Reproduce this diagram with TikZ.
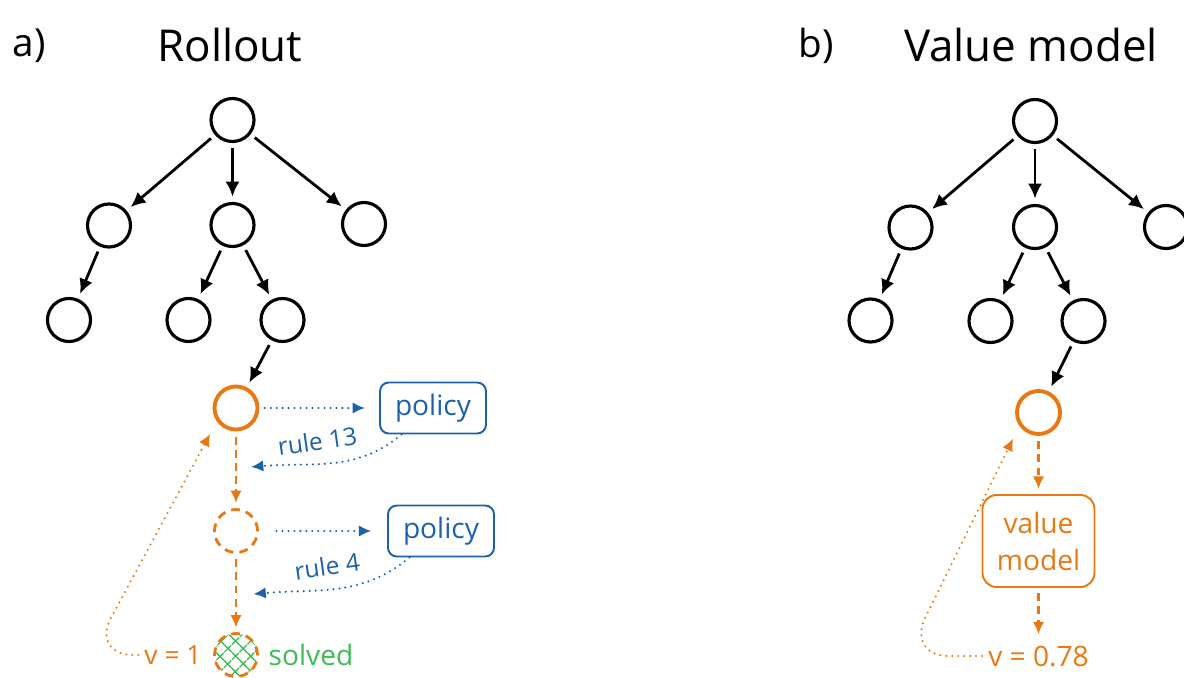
\documentclass[tikz,border=0pt]{standalone}
\usepackage{fontspec}
\setmainfont{Open Sans}
\usepackage{tikz}
\usetikzlibrary{positioning, arrows.meta, patterns.meta}
\definecolor{exorange}{RGB}{232,121,18}
\definecolor{exblue}{RGB}{27,98,168}
\definecolor{exgreen}{RGB}{64,186,84}

\begin{document}
\begin{tikzpicture}
	[on grid, auto,
	tnode/.style={circle, draw, line width=1.8pt, minimum size=0.86cm, inner sep=0pt},
	onode/.style={tnode, draw=exorange, line width=2.2pt},
	dnode/.style={tnode, draw=exorange, line width=1.6pt, dash pattern=on 5pt off 3.5pt},
	tarrow/.style={-{Latex[length=8.5pt,width=8pt]}, line width=1.6pt, shorten <=3pt, shorten >=3pt},
	darrow/.style={-{Latex[length=7pt,width=6.5pt]}, exorange, line width=1.2pt, dash pattern=on 4.5pt off 3pt, shorten <=3pt, shorten >=3pt},
	barrow/.style={-{Latex[length=7pt,width=6.5pt]}, exblue, line width=1.3pt, dash pattern=on 0pt off 3.4pt, line cap=round},
	oarrow/.style={-{Latex[length=7pt,width=6.5pt]}, exorange, line width=1.3pt, dash pattern=on 0pt off 3.4pt, line cap=round},
	pbox/.style={draw=exblue, text=exblue, rounded corners=5pt, line width=1.1pt, minimum width=2.12cm, minimum height=1.02cm, font=\fontsize{16}{18}\selectfont},
	vbox/.style={draw=exorange, text=exorange, rounded corners=8pt, line width=1.1pt, minimum width=2.24cm, minimum height=1.84cm, align=center, font=\fontsize{16}{21}\selectfont},
	lbl/.style={font=\fontsize{15}{17}\selectfont},
	ttl/.style={font=\fontsize{25}{30}\selectfont}]
	\useasboundingbox (0,0) rectangle (23.68,-13.54);
	\node[ttl, font=\fontsize{22}{26}\selectfont] (ta) at (0.58,-0.92) {a)};
	\node[ttl] (tr) at (4.6,-0.9) {Rollout};
	\node[ttl, font=\fontsize{22}{26}\selectfont] (tb) at (16.32,-0.92) {b)};
	\node[ttl] (tv) at (20.62,-0.9) {Value model};

	\node[tnode] (a_0) at (4.65,-2.4) {};
	\node[tnode] (a_1) [below left=2.11cm and 2.47cm of a_0] {};
	\node[tnode] (a_2) [below=2.1cm of a_0] {};
	\node[tnode] (a_3) [below right=2.08cm and 2.63cm of a_0] {};
	\node[tnode] (a_4) [below left=1.89cm and 0.8cm of a_1] {};
	\node[tnode] (a_5) [below left=1.9cm and 0.88cm of a_2] {};
	\node[tnode] (a_6) [below right=1.9cm and 1cm of a_2] {};
	\node[onode] (a_7) [below left=1.76cm and 0.93cm of a_6] {};
	\node[dnode] (a_8) [below=2.46cm of a_7] {};
	\node[dnode, pattern={Hatch[angle=45, distance=6.5pt, line width=1pt]}, pattern color=exgreen] (a_9) [below=2.48cm of a_8] {};
	\node[pbox] (p_1) [right=3.94cm of a_7] {policy};
	\node[pbox] (p_2) [right=4.1cm of a_8] {policy};
	\node[lbl, text=exorange] (v_1) [left=1.26cm of a_9] {v = 1};
	\node[lbl, text=exgreen, font=\fontsize{16}{18}\selectfont] (s_1) [right=1.5cm of a_9] {solved};
	\coordinate[below right=1.18cm and 0.3cm of a_7] (r_1);
	\coordinate[below right=1.26cm and 0.35cm of a_8] (r_2);
	\coordinate[left=1.64cm of v_1] (c_1);

	\path[tarrow]
	(a_0) edge (a_1) edge (a_2) edge (a_3)
	(a_1) edge (a_4)
	(a_2) edge (a_5) edge (a_6)
	(a_6) edge (a_7);
	\path[darrow]
	(a_7) edge (a_8)
	(a_8) edge (a_9);
	\path[barrow]
	(a_7) edge[shorten <=3pt, shorten >=8pt] (p_1)
	(p_1) edge[out=-140, in=5] node[pos=0.58, above=4pt, rotate=8, lbl, font=\fontsize{14}{16}\selectfont] {rule 13} (r_1)
	(a_8) edge[shorten <=10pt, shorten >=9pt] (p_2)
	(p_2) edge[out=-140, in=5] node[pos=0.55, above=4pt, rotate=8, lbl, font=\fontsize{14}{16}\selectfont] {rule 4} (r_2);
	\draw[oarrow, rounded corners=24pt, shorten >=8pt] (v_1.west) -- (c_1) -- (a_7.215);

	\node[tnode] (b_0) at (20.7,-2.42) {};
	\node[tnode] (b_1) [below left=2.13cm and 2.49cm of b_0] {};
	\node[tnode] (b_2) [below=2.12cm of b_0] {};
	\node[tnode] (b_3) [below right=2.12cm and 2.62cm of b_0] {};
	\node[tnode] (b_4) [below left=1.86cm and 0.8cm of b_1] {};
	\node[tnode] (b_5) [below left=1.88cm and 0.89cm of b_2] {};
	\node[tnode] (b_6) [below right=1.88cm and 0.97cm of b_2] {};
	\node[onode] (b_7) [below left=1.83cm and 0.9cm of b_6] {};
	\node[vbox] (m_1) [below=2.57cm of b_7] {value\\model};
	\node[lbl, text=exorange, font=\fontsize{16}{18}\selectfont] (v_2) [below=2.3cm of m_1] {v = 0.78};
	\coordinate[left=2.64cm of v_2] (c_2);

	\path[tarrow]
	(b_0) edge (b_1) edge (b_2) edge (b_3)
	(b_1) edge (b_4)
	(b_2) edge (b_5) edge (b_6)
	(b_6) edge (b_7);
	\path[darrow]
	(b_7) edge (m_1)
	(m_1) edge (v_2);
	\draw[oarrow, rounded corners=24pt, shorten >=8pt] (v_2.west) -- (c_2) -- (b_7.215);
\end{tikzpicture}
\end{document}
